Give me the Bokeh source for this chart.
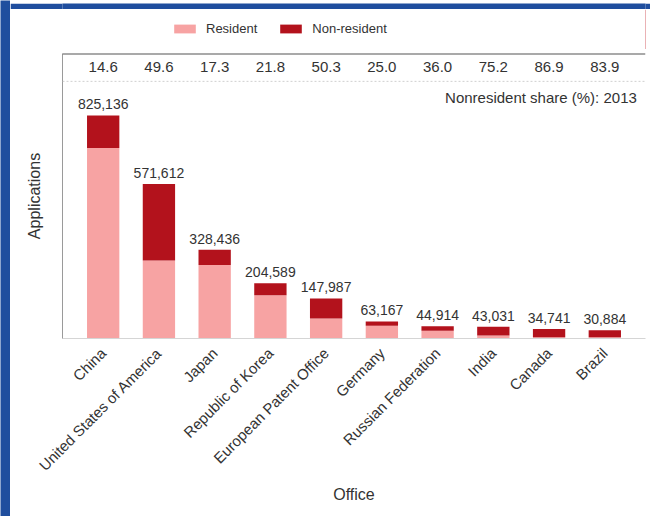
import math
from bokeh.plotting import figure
from bokeh.models import (ColumnDataSource, FactorRange, Legend, LegendItem, Span,
                          LabelSet, FixedTicker)
from bokeh.layouts import column, row
from bokeh.embed import file_html
from bokeh.resources import INLINE
from bokeh.core.properties import value

# ---- data (WIPO, 2013) ----
offices = ["China", "United States of America", "Japan", "Republic of Korea",
           "European Patent Office", "Germany", "Russian Federation", "India",
           "Canada", "Brazil"]
totals = [825136, 571612, 328436, 204589, 147987, 63167, 44914, 43031, 34741, 30884]
nonresident_share = [14.6, 49.6, 17.3, 21.8, 50.3, 25.0, 36.0, 75.2, 86.9, 83.9]
share_labels = ["14.6", "49.6", "17.3", "21.8", "50.3", "25.0", "36.0", "75.2", "86.9", "83.9"]
series_names = ["Resident", "Non-resident"]

resident = [round(t * (1 - s / 100.0)) for t, s in zip(totals, nonresident_share)]
nonresident = [t - r for t, r in zip(totals, resident)]
total_labels = ["{:,}".format(t) for t in totals]

FONT = "Liberation Sans"
PINK = "#f7a3a3"
RED = "#b3121c"
BLUE = "#1f4e9e"
TXT = "#333333"

Y_MAX = 1054000
Y_STRIP_LINE = 951000
Y_STRIP_TEXT = 1003000
Y_NOTE = 891000

src = ColumnDataSource(dict(office=offices, resident=resident, nonresident=nonresident,
                            total=totals, total_label=total_labels,
                            share=share_labels,
                            strip_y=[Y_STRIP_TEXT] * len(offices)))


def blue_band(w, h):
    b = figure(width=w, height=h, output_backend="svg", toolbar_location=None,
               x_axis_type=None, y_axis_type=None,
               min_border_left=0, min_border_right=0, min_border_top=0, min_border_bottom=0,
               background_fill_color=BLUE, border_fill_color=BLUE)
    b.grid.visible = False
    b.outline_line_color = None
    return b


# ---------- legend strip (small figure on top) ----------
pl = figure(width=640, height=40, x_range=(0, 1), y_range=(0, 1),
            output_backend="svg", toolbar_location=None,
            x_axis_type=None, y_axis_type=None,
            min_border_left=0, min_border_right=0, min_border_top=0, min_border_bottom=0)
pl.grid.visible = False
pl.outline_line_color = None
# legend keys only (placed outside the visible range)
leg_src = ColumnDataSource(dict(x=[5.0], top=[1.0]))
r_res = pl.vbar(x="x", top="top", width=0.1, color=PINK, line_color=None, source=leg_src)
r_non = pl.vbar(x="x", top="top", width=0.1, color=RED, line_color=None, source=leg_src)
legend = Legend(items=[LegendItem(label=series_names[0], renderers=[r_res]),
                       LegendItem(label=series_names[1], renderers=[r_non])],
                orientation="horizontal", location=(109, 13),
                glyph_width=27, glyph_height=11, label_standoff=8, spacing=20,
                padding=0, margin=0, border_line_color=None, background_fill_alpha=0,
                label_text_font=FONT, label_text_font_size="13px",
                label_text_color=TXT)
pl.add_layout(legend, "center")

# ---------- main chart ----------
p = figure(x_range=FactorRange(factors=offices, range_padding=0.046),
           y_range=(0, Y_MAX), width=640, height=467,
           output_backend="svg", toolbar_location=None,
           min_border_left=52, min_border_right=5, min_border_top=4, min_border_bottom=178)

p.vbar_stack(["resident", "nonresident"], x="office", width=0.58,
             color=[PINK, RED], line_color=None, source=src)

# total labels
p.add_layout(LabelSet(x="office", y="total", text="total_label", source=src,
                      y_offset=6, text_align="center", text_baseline="bottom",
                      text_font=value(FONT), text_font_size="14px", text_color=TXT))

# non-resident share strip
p.text(x="office", y="strip_y", text="share", source=src, text_align="center",
       text_baseline="middle", text_font=value(FONT), text_font_size="15px",
       text_color=TXT)
p.add_layout(Span(location=Y_STRIP_LINE, dimension="width", line_color="#cfcfcf",
                  line_dash="2 2", line_width=1))
p.add_layout(Span(location=Y_MAX, dimension="width", line_color="#555555", line_width=2))
p.text(x=[offices[-1]], y=[Y_NOTE], text=["Nonresident share (%): 2013"],
       x_offset=32, text_align="right", text_baseline="middle",
       text_font=value(FONT), text_font_size="15px", text_color=TXT)

# axes
p.xgrid.grid_line_color = None
p.ygrid.grid_line_color = None
p.outline_line_color = None

p.yaxis.ticker = FixedTicker(ticks=[])
p.yaxis.major_tick_line_color = None
p.yaxis.minor_tick_line_color = None
p.yaxis.major_label_text_font_size = "0px"
p.yaxis.axis_line_color = "#9a9a9a"
p.yaxis.axis_label = "Applications"
p.yaxis.axis_label_standoff = 20
p.yaxis.axis_label_text_font = FONT
p.yaxis.axis_label_text_font_size = "16px"
p.yaxis.axis_label_text_font_style = "normal"
p.yaxis.axis_label_text_color = TXT

p.xaxis.major_label_orientation = math.pi / 4
p.xaxis.major_tick_line_color = None
p.xaxis.minor_tick_line_color = None
p.xaxis.axis_line_color = "#d5d5d5"
p.xaxis.major_label_standoff = 6
p.xaxis.major_label_text_font = FONT
p.xaxis.major_label_text_font_size = "15px"
p.xaxis.major_label_text_color = TXT
p.xaxis.axis_label = "Office"
p.xaxis.axis_label_standoff = 3
p.xaxis.axis_label_text_font = FONT
p.xaxis.axis_label_text_font_size = "16px"
p.xaxis.axis_label_text_font_style = "normal"
p.xaxis.axis_label_text_color = TXT

layout = row(blue_band(10, 516),
             column(blue_band(640, 9), pl, p, spacing=0),
             spacing=0)

open("out.html", "w").write(file_html(layout, INLINE))
